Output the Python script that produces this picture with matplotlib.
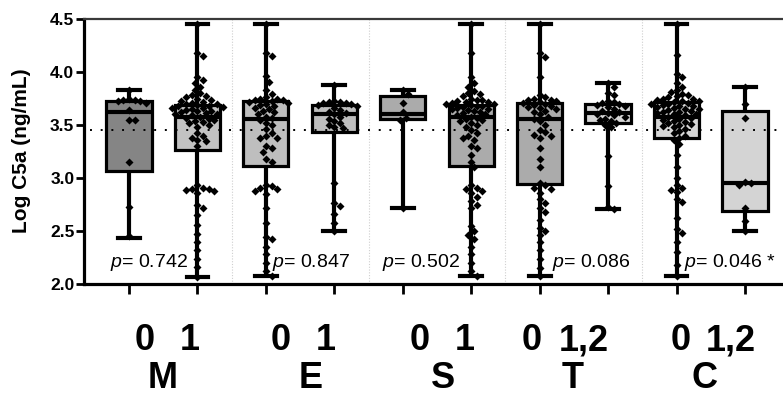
import numpy as np
import matplotlib
matplotlib.use("Agg")
import matplotlib.pyplot as plt
import matplotlib.transforms as mtransforms

plt.rcParams["font.family"] = ["Liberation Sans", "DejaVu Sans"]
plt.rcParams["mathtext.fontset"] = "custom"
plt.rcParams["mathtext.it"] = "Liberation Sans:italic"
plt.rcParams["mathtext.rm"] = "Liberation Sans"

# ---- data ----
groups = ["M", "E", "S", "T", "C"]
levels = [["0", "1"], ["0", "1"], ["0", "1"], ["0", "1,2"], ["0", "1,2"]]
p_labels = ["0.742", "0.847", "0.502", "0.086", "0.046 *"]

q1 = [3.07, 3.26, 3.11, 3.43, 3.56, 3.11, 2.94, 3.52, 3.38, 2.69]
med = [3.62, 3.58, 3.56, 3.60, 3.60, 3.58, 3.56, 3.61, 3.58, 2.95]
q3 = [3.73, 3.69, 3.73, 3.69, 3.77, 3.69, 3.71, 3.70, 3.72, 3.63]
wlo = [2.43, 2.07, 2.08, 2.50, 2.72, 2.08, 2.08, 2.71, 2.08, 2.50]
whi = [3.83, 4.45, 4.45, 3.88, 3.83, 4.45, 4.45, 3.90, 4.45, 3.86]

m0 = [3.83, 3.75, 3.74, 3.74, 3.73, 3.73, 3.71, 3.64, 3.55, 3.55, 3.15, 2.73, 2.45]
m1 = [4.45, 4.18, 4.15, 3.95, 3.92, 3.90, 3.86, 3.83, 3.80, 3.78, 3.77, 3.76, 3.75,
      3.74, 3.73, 3.72, 3.71, 3.70, 3.70, 3.69, 3.68, 3.68, 3.67, 3.66, 3.66, 3.65,
      3.64, 3.63, 3.63, 3.62, 3.61, 3.60, 3.60, 3.59, 3.58, 3.57, 3.56, 3.55, 3.54,
      3.53, 3.52, 3.50, 3.48, 3.42, 3.40, 3.38, 3.36, 3.35, 3.30, 2.93, 2.91, 2.90,
      2.90, 2.89, 2.88, 2.86, 2.75, 2.72, 2.65, 2.56, 2.47, 2.40, 2.32, 2.24, 2.16, 2.07]
e0 = [4.45, 4.18, 4.15, 3.96, 3.91, 3.83, 3.79, 3.76, 3.75, 3.75, 3.74, 3.74, 3.73,
      3.72, 3.71, 3.70, 3.69, 3.68, 3.66, 3.65, 3.63, 3.62, 3.60, 3.58, 3.57, 3.55,
      3.52, 3.50, 3.46, 3.42, 3.40, 3.38, 3.38, 3.30, 3.28, 3.25, 3.18, 3.15, 2.93,
      2.92, 2.91, 2.90, 2.88, 2.85, 2.72, 2.58, 2.44, 2.42, 2.35, 2.28, 2.20, 2.12, 2.08]
e1 = [3.88, 3.73, 3.72, 3.72, 3.71, 3.71, 3.70, 3.69, 3.68, 3.66, 3.64, 3.62, 3.61,
      3.60, 3.58, 3.56, 3.54, 3.52, 3.50, 3.48, 3.47, 2.95, 2.76, 2.74, 2.66, 2.58, 2.50]
s0 = [3.83, 3.79, 3.71, 3.62, 3.57, 3.55, 2.72]
s1 = [4.45, 4.18, 3.95, 3.90, 3.86, 3.82, 3.80, 3.79, 3.77, 3.75, 3.74, 3.74, 3.73,
      3.72, 3.72, 3.71, 3.70, 3.70, 3.69, 3.68, 3.68, 3.67, 3.66, 3.65, 3.65, 3.64,
      3.63, 3.62, 3.61, 3.60, 3.59, 3.58, 3.57, 3.56, 3.55, 3.54, 3.52, 3.50, 3.48,
      3.45, 3.42, 3.40, 3.38, 3.36, 3.30, 3.28, 3.22, 3.15, 3.10, 2.93, 2.91, 2.90,
      2.88, 2.86, 2.82, 2.78, 2.75, 2.72, 2.55, 2.50, 2.46, 2.42, 2.35, 2.28, 2.20, 2.12, 2.08]
t0 = [4.45, 4.18, 4.14, 3.95, 3.78, 3.76, 3.75, 3.74, 3.74, 3.73, 3.72, 3.71, 3.70,
      3.69, 3.68, 3.67, 3.66, 3.65, 3.63, 3.62, 3.60, 3.58, 3.56, 3.54, 3.50, 3.45,
      3.43, 3.41, 3.40, 3.38, 3.28, 3.18, 3.10, 2.95, 2.93, 2.91, 2.90, 2.86, 2.80,
      2.76, 2.72, 2.68, 2.60, 2.53, 2.50, 2.46, 2.40, 2.32, 2.24, 2.15, 2.08]
t1 = [3.90, 3.86, 3.80, 3.78, 3.73, 3.72, 3.71, 3.70, 3.69, 3.68, 3.67, 3.65, 3.63,
      3.62, 3.61, 3.60, 3.59, 3.58, 3.56, 3.55, 3.54, 3.52, 3.50, 3.48, 3.21, 2.92, 2.73, 2.71]
c0 = [4.45, 4.16, 3.98, 3.95, 3.90, 3.86, 3.83, 3.81, 3.79, 3.78, 3.77, 3.76, 3.75,
      3.75, 3.74, 3.73, 3.73, 3.72, 3.71, 3.70, 3.70, 3.69, 3.68, 3.68, 3.67, 3.66,
      3.65, 3.65, 3.64, 3.63, 3.62, 3.62, 3.61, 3.60, 3.60, 3.59, 3.58, 3.57, 3.56,
      3.55, 3.54, 3.53, 3.52, 3.51, 3.50, 3.49, 3.48, 3.46, 3.44, 3.42, 3.40, 3.38,
      3.36, 3.32, 3.22, 3.10, 3.00, 2.93, 2.91, 2.89, 2.87, 2.80, 2.77, 2.62, 2.52,
      2.48, 2.40, 2.30, 2.18, 2.08]
c1 = [3.86, 3.70, 3.57, 2.96, 2.95, 2.93, 2.72, 2.59, 2.50]

points = [m0, m1, e0, e1, s0, s1, t0, t1, c0, c1]
box_colors = ["#858585", "#c2c2c2", "#bebebe", "#bebebe", "#ababab",
              "#ababab", "#ababab", "#d6d6d6", "#d6d6d6", "#d4d4d4"]
ref_level = 3.45

# pixel scale used only for the swarm layout
PX_X, PX_Y = 68.44, 105.2


def swarm_offsets(vals, d=5.6):
    vals = np.asarray(vals)
    placed = []
    offs = np.zeros(len(vals))
    steps = [0.0]
    for k in range(1, 60):
        steps += [k * d * 0.5, -k * d * 0.5]
    for i in np.argsort(vals)[::-1]:
        y = vals[i] * PX_Y
        for c in steps:
            if all((c - px) ** 2 + (y - py) ** 2 >= d * d for px, py in placed):
                break
        placed.append((c, y))
        offs[i] = c / PX_X
    return offs


fig = plt.figure(figsize=(7.83, 3.96), dpi=100)
ax = fig.add_axes([84 / 783, 112 / 396, 1 - 84 / 783, 265 / 396])

pos = np.arange(len(q1))
stats = [dict(med=med[i], q1=q1[i], q3=q3[i], whislo=wlo[i], whishi=whi[i], fliers=[])
         for i in range(len(q1))]
bp = ax.bxp(stats, positions=pos, widths=0.66, capwidths=0.32, patch_artist=True,
            showfliers=False,
            boxprops=dict(linewidth=2.3, edgecolor="black"),
            whiskerprops=dict(linewidth=3, color="black", solid_capstyle="butt"),
            capprops=dict(linewidth=3, color="black"),
            medianprops=dict(linewidth=3, color="black"))
for patch, col in zip(bp["boxes"], box_colors):
    patch.set_facecolor(col)
    patch.set_zorder(2)
for key in ["whiskers", "caps", "medians"]:
    for ln in bp[key]:
        ln.set_zorder(4)

for i, vals in enumerate(points):
    xs = pos[i] + swarm_offsets(vals)
    ax.plot(xs, vals, "D", color="black", ms=4.1, mec="none", zorder=3)

ax.axhline(ref_level, xmin=0.009, xmax=1, color="black", lw=1.4,
           linestyle=(0, (1, 4.5)), zorder=2.5)
for xv in [1.5, 3.5, 5.5, 7.5]:
    ax.axvline(xv, color="#cfcfcf", lw=0.8, linestyle=(0, (1, 1.5)), zorder=0.5)

ax.set_xlim(-0.658, 9.556)
ax.set_ylim(2.0, 4.5)
ax.set_yticks([2.0, 2.5, 3.0, 3.5, 4.0, 4.5])
ax.set_yticklabels(["2.0", "2.5", "3.0", "3.5", "4.0", "4.5"], fontweight="bold",
                   fontsize=12.5)
ax.set_xticks(pos)
ax.set_xticklabels([])
ax.tick_params(axis="y", direction="out", length=5.5, width=2, pad=1.5)
ax.tick_params(axis="x", direction="out", length=7.5, width=2)
ax.spines["right"].set_visible(False)
ax.spines["left"].set_linewidth(2.3)
ax.spines["bottom"].set_linewidth(2.3)
ax.spines["top"].set_linewidth(1.6)
ax.spines["top"].set_color("#3a3a3a")

fig.text(22 / 783, 1 - 151 / 396, "Log C5a (ng/mL)", rotation=90, ha="center",
         va="center", fontsize=15, fontweight="bold")

# p-values
p_x = [-0.278, 2.089, 3.697, 6.181, 8.110]
for x, lab in zip(p_x, p_labels):
    ax.text(x, 2.165, r"$\mathit{p}$= " + lab, fontsize=14, ha="left", va="baseline",
            zorder=5)

# group / level labels under the axis
trans = mtransforms.blended_transform_factory(ax.transData, fig.transFigure)
lev_x = [[0.234, 0.891], [2.221, 2.878], [4.252, 4.909], [5.888, 6.648], [8.065, 8.796]]
grp_x = [0.497, 2.659, 4.581, 6.487, 8.416]
lab_font = dict(family=["Liberation Sans Narrow", "Liberation Sans"], fontweight="bold",
                fontsize=26)
for g, labs, lx, gx in zip(groups, levels, lev_x, grp_x):
    for t, x in zip(labs, lx):
        fig.text(x, 46 / 396, t, transform=trans, ha="center", va="baseline", **lab_font)
    fig.text(gx, 0.5 / 396, g, transform=trans, ha="center", va="bottom", **lab_font)

fig.savefig("out.png", dpi=100)
